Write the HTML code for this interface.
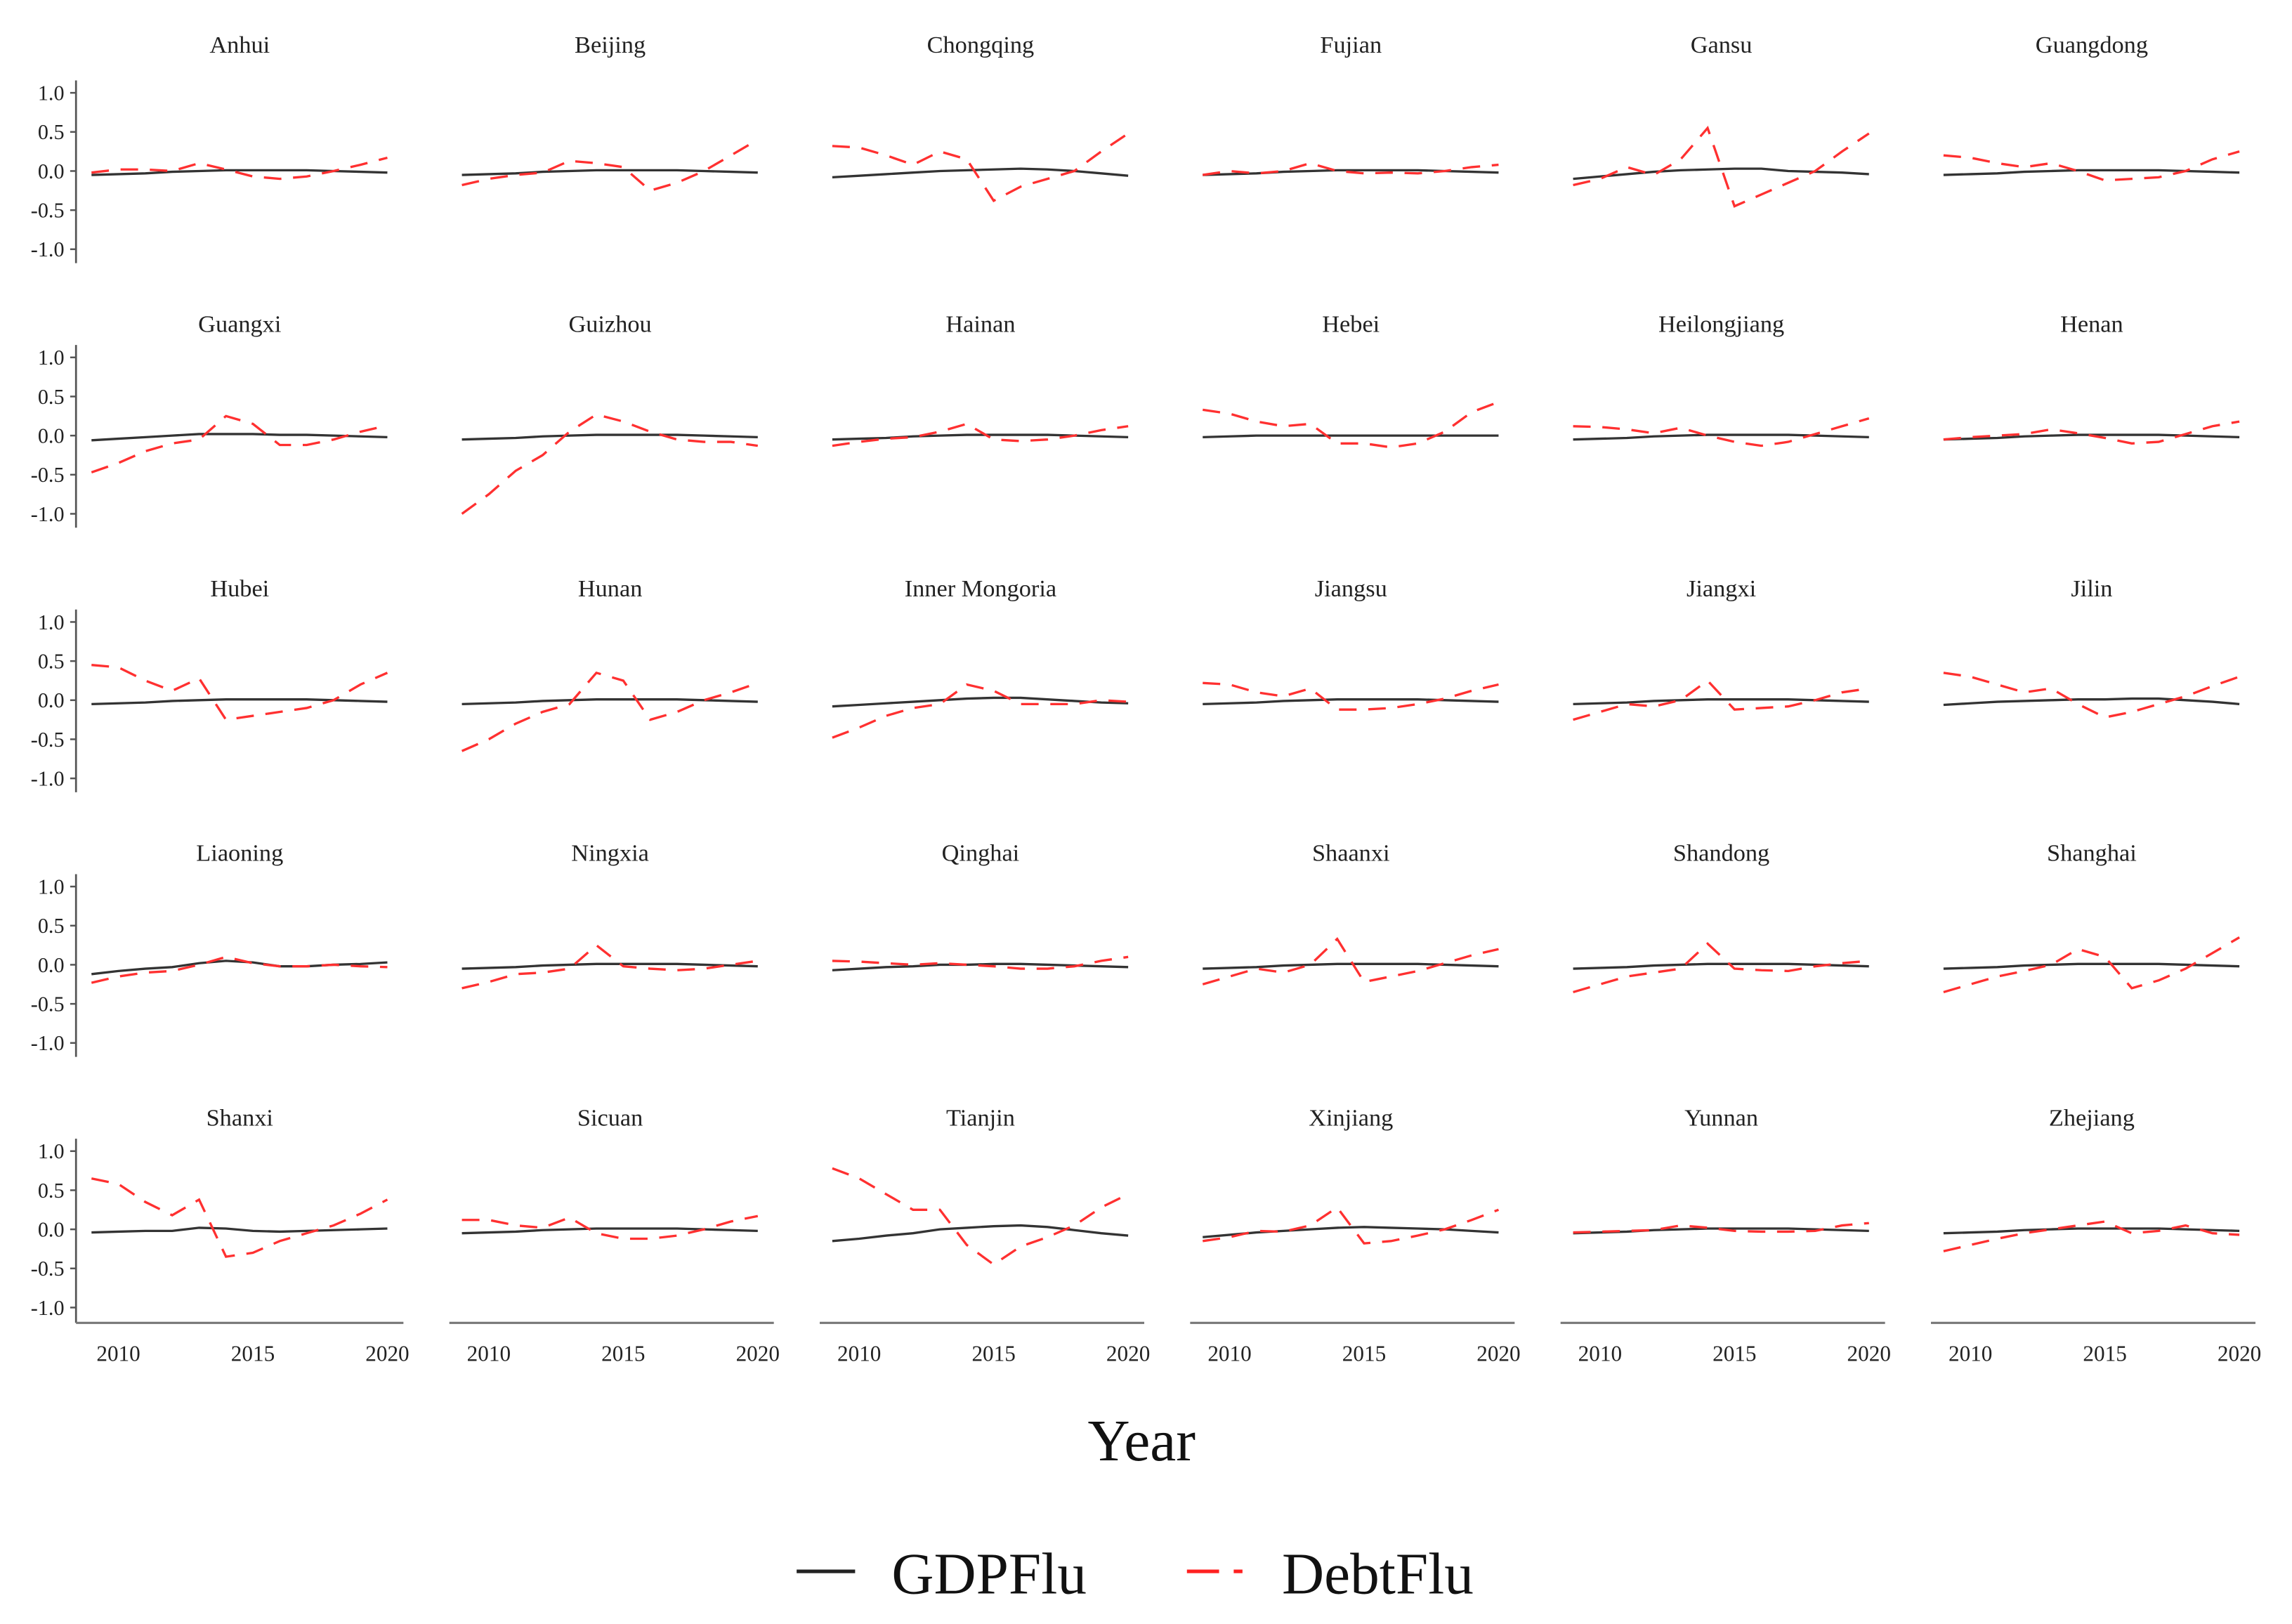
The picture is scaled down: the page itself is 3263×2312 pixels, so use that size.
<!DOCTYPE html>
<html><head><meta charset="utf-8"><style>html,body{margin:0;padding:0;background:#fff}svg{display:block}</style></head>
<body>
<svg id="chart" width="3263" height="2312" viewBox="0 0 1568 1111" preserveAspectRatio="none" xmlns="http://www.w3.org/2000/svg" font-family="'Liberation Serif', serif"></svg>
<script>
const years = [2009,2010,2011,2012,2013,2014,2015,2016,2017,2018,2019,2020];
const provinces = ["Anhui","Beijing","Chongqing","Fujian","Gansu","Guangdong","Guangxi","Guizhou","Hainan","Hebei","Heilongjiang","Henan","Hubei","Hunan","Inner Mongoria","Jiangsu","Jiangxi","Jilin","Liaoning","Ningxia","Qinghai","Shaanxi","Shandong","Shanghai","Shanxi","Sicuan","Tianjin","Xinjiang","Yunnan","Zhejiang"];
const yTicks = [1.0,0.5,0.0,-0.5,-1.0];
const yTickLabels = ["1.0","0.5","0.0","-0.5","-1.0"];
const xTicks = [2010,2015,2020];
const gdpDefault = [-0.05,-0.04,-0.03,-0.01,0,0.01,0.01,0.01,0.01,0,-0.01,-0.02];
const gdpFlu = {
 "Chongqing":[-0.08,-0.06,-0.04,-0.02,0,0.01,0.02,0.03,0.02,0,-0.03,-0.06],
 "Gansu":[-0.1,-0.07,-0.04,-0.01,0.01,0.02,0.03,0.03,0.0,-0.01,-0.02,-0.04],
 "Guangxi":[-0.06,-0.04,-0.02,0,0.02,0.02,0.02,0.01,0.01,0,-0.01,-0.02],
 "Hebei":[-0.02,-0.01,0,0,0,0,0,0,0,0,0,0],
 "Inner Mongoria":[-0.08,-0.06,-0.04,-0.02,0,0.02,0.03,0.03,0.01,-0.01,-0.03,-0.04],
 "Jilin":[-0.06,-0.04,-0.02,-0.01,0,0.01,0.01,0.02,0.02,0,-0.02,-0.05],
 "Liaoning":[-0.12,-0.08,-0.05,-0.03,0.02,0.05,0.03,-0.02,-0.02,0,0.01,0.03],
 "Qinghai":[-0.07,-0.05,-0.03,-0.02,0,0,0.01,0.01,0,-0.01,-0.02,-0.03],
 "Shanxi":[-0.04,-0.03,-0.02,-0.02,0.02,0.01,-0.02,-0.03,-0.02,-0.01,0,0.01],
 "Tianjin":[-0.15,-0.12,-0.08,-0.05,0,0.02,0.04,0.05,0.03,-0.01,-0.05,-0.08],
 "Xinjiang":[-0.1,-0.07,-0.04,-0.02,0,0.02,0.03,0.02,0.01,0,-0.02,-0.04]
};
const debtFlu = {
 "Anhui":[-0.02,0.02,0.02,0.0,0.1,0.02,-0.07,-0.1,-0.07,0.0,0.08,0.17],
 "Beijing":[-0.18,-0.1,-0.05,-0.02,0.13,0.1,0.05,-0.25,-0.15,0.0,0.2,0.4],
 "Chongqing":[0.32,0.3,0.2,0.08,0.25,0.15,-0.38,-0.2,-0.1,0.0,0.25,0.48],
 "Fujian":[-0.05,0.0,-0.03,0.0,0.1,0.0,-0.03,-0.02,-0.03,0.0,0.05,0.08],
 "Gansu":[-0.18,-0.1,0.05,-0.05,0.15,0.55,-0.45,-0.3,-0.15,0.0,0.25,0.48],
 "Guangdong":[0.2,0.17,0.1,0.05,0.1,0.0,-0.12,-0.1,-0.08,0.0,0.15,0.25],
 "Guangxi":[-0.47,-0.35,-0.2,-0.1,-0.05,0.25,0.15,-0.12,-0.12,-0.05,0.05,0.13],
 "Guizhou":[-1.0,-0.75,-0.45,-0.25,0.05,0.27,0.18,0.05,-0.05,-0.08,-0.08,-0.13],
 "Hainan":[-0.13,-0.08,-0.04,-0.02,0.05,0.15,-0.05,-0.07,-0.05,0.0,0.07,0.12],
 "Hebei":[0.33,0.28,0.18,0.12,0.15,-0.1,-0.1,-0.15,-0.1,0.05,0.3,0.43],
 "Heilongjiang":[0.12,0.11,0.08,0.03,0.1,0.0,-0.08,-0.13,-0.08,0.02,0.12,0.22],
 "Henan":[-0.05,-0.02,0.0,0.02,0.08,0.03,-0.03,-0.1,-0.08,0.02,0.12,0.18],
 "Hubei":[0.45,0.42,0.25,0.12,0.28,-0.25,-0.2,-0.15,-0.1,0.0,0.2,0.35],
 "Hunan":[-0.65,-0.5,-0.3,-0.15,-0.05,0.35,0.25,-0.25,-0.15,0.0,0.1,0.22],
 "Inner Mongoria":[-0.48,-0.35,-0.2,-0.1,-0.05,0.2,0.12,-0.05,-0.05,-0.05,0.0,-0.02],
 "Jiangsu":[0.22,0.2,0.1,0.05,0.15,-0.12,-0.12,-0.1,-0.05,0.02,0.12,0.2],
 "Jiangxi":[-0.25,-0.15,-0.05,-0.08,0.0,0.25,-0.12,-0.1,-0.08,0.0,0.1,0.15],
 "Jilin":[0.35,0.3,0.2,0.1,0.15,-0.05,-0.22,-0.15,-0.05,0.05,0.18,0.3],
 "Liaoning":[-0.23,-0.15,-0.1,-0.08,0.0,0.1,0.02,-0.02,-0.02,0.0,-0.02,-0.03],
 "Ningxia":[-0.3,-0.22,-0.12,-0.1,-0.05,0.25,-0.02,-0.05,-0.07,-0.05,0.0,0.05],
 "Qinghai":[0.05,0.04,0.02,0.0,0.02,0.0,-0.02,-0.05,-0.05,-0.02,0.05,0.1],
 "Shaanxi":[-0.25,-0.15,-0.05,-0.1,0.0,0.33,-0.22,-0.15,-0.08,0.02,0.12,0.2],
 "Shandong":[-0.35,-0.25,-0.15,-0.1,-0.05,0.27,-0.05,-0.07,-0.08,-0.02,0.02,0.05],
 "Shanghai":[-0.35,-0.25,-0.15,-0.08,0.0,0.2,0.1,-0.3,-0.2,-0.05,0.15,0.35],
 "Shanxi":[0.65,0.58,0.35,0.18,0.38,-0.35,-0.3,-0.15,-0.05,0.05,0.2,0.38],
 "Sicuan":[0.12,0.12,0.05,0.02,0.15,-0.05,-0.12,-0.12,-0.08,0.0,0.1,0.17],
 "Tianjin":[0.78,0.65,0.45,0.25,0.25,-0.2,-0.45,-0.22,-0.1,0.05,0.28,0.45],
 "Xinjiang":[-0.15,-0.1,-0.02,-0.03,0.05,0.28,-0.18,-0.15,-0.08,0.0,0.12,0.25],
 "Yunnan":[-0.04,-0.03,-0.02,-0.01,0.05,0.02,-0.02,-0.03,-0.03,-0.02,0.05,0.08],
 "Zhejiang":[-0.28,-0.2,-0.12,-0.05,0.0,0.05,0.1,-0.05,-0.02,0.05,-0.05,-0.07]
};

const NS = "http://www.w3.org/2000/svg";
const svg = document.getElementById('chart');
function mk(tag, attrs, parent){const e=document.createElementNS(NS,tag);for(const k in attrs)e.setAttribute(k,attrs[k]);(parent||svg).appendChild(e);return e;}
const colPitch = 253.4, rowZero = [117,298,479,660,841], titleY = [36,227,408,589,770];
const unit = 53.5;
function xScale(col, yr){return 81 + colPitch*col + (yr-2010)*18.4;}
function yScale(row, v){return rowZero[row] - v*unit;}

provinces.forEach((p, i) => {
  const row = Math.floor(i/6), col = i%6;
  const g = mk('g', {});
  
  
  const t = mk('text', {x: 164 + colPitch*col, y: titleY[row], 'text-anchor':'middle', 'font-size':16.5, fill:'#222'}, g);
  t.textContent = p;
  
  
  if (col === 0) {
    const axBottom = row === 4 ? 905 : rowZero[row] + 63;
    const ax = mk('line', {x1:52, x2:52, y1: rowZero[row]-62, y2: axBottom, stroke:'#555', 'stroke-width':1.3}, g);
    
    
    yTicks.forEach((v, k) => {
      const y = yScale(row, v);
      const tk = mk('line', {x1:48, x2:52, y1:y, y2:y, stroke:'#555', 'stroke-width':1.2}, g);
      
      
      const tl = mk('text', {x:44, y:y+5, 'text-anchor':'end', 'font-size':14.5, fill:'#222'}, g);
      tl.textContent = yTickLabels[k];
      
      
    });
  }
  if (row === 4) {
    const xa = mk('line', {x1: 52 + colPitch*col - (col?(-2):0), x2: 276 + colPitch*col, y1:905, y2:905, stroke:'#777', 'stroke-width':1.5}, g);
    
    
    xTicks.forEach(yr => {
      const xl = mk('text', {x: xScale(col, yr), y: 931, 'text-anchor':'middle', 'font-size':15, fill:'#222'}, g);
      xl.textContent = yr;
      
      
    });
  }
  const gdp = gdpFlu[p] || gdpDefault;
  const gp = mk('polyline', {points: years.map((yr,k)=>xScale(col,yr)+','+yScale(row,gdp[k])).join(' '), fill:'none', stroke:'#333', 'stroke-width':1.6}, g);
  
  
  const d = debtFlu[p];
  const dp = mk('polyline', {points: years.map((yr,k)=>xScale(col,yr)+','+yScale(row,d[k])).join(' '), fill:'none', stroke:'#ff3030', 'stroke-width':1.6, 'stroke-dasharray':'12 8'}, g);
  
  
});

const xt = mk('text', {x:781, y:999, 'text-anchor':'middle', 'font-size':40, fill:'#111'});
xt.textContent = 'Year';



const lg = mk('g', {});


const l1 = mk('line', {x1:545, x2:585, y1:1075, y2:1075, stroke:'#222', 'stroke-width':2.5}, lg);


const t1 = mk('text', {x:610, y:1090, 'font-size':40, fill:'#111'}, lg);
t1.textContent = 'GDPFlu';


const l2 = mk('line', {x1:812, x2:854, y1:1075, y2:1075, stroke:'#ff2020', 'stroke-width':2.5, 'stroke-dasharray':'22 10 6 20'}, lg);


const t2 = mk('text', {x:877, y:1090, 'font-size':40, fill:'#111'}, lg);
t2.textContent = 'DebtFlu';


</script>
</body></html>
